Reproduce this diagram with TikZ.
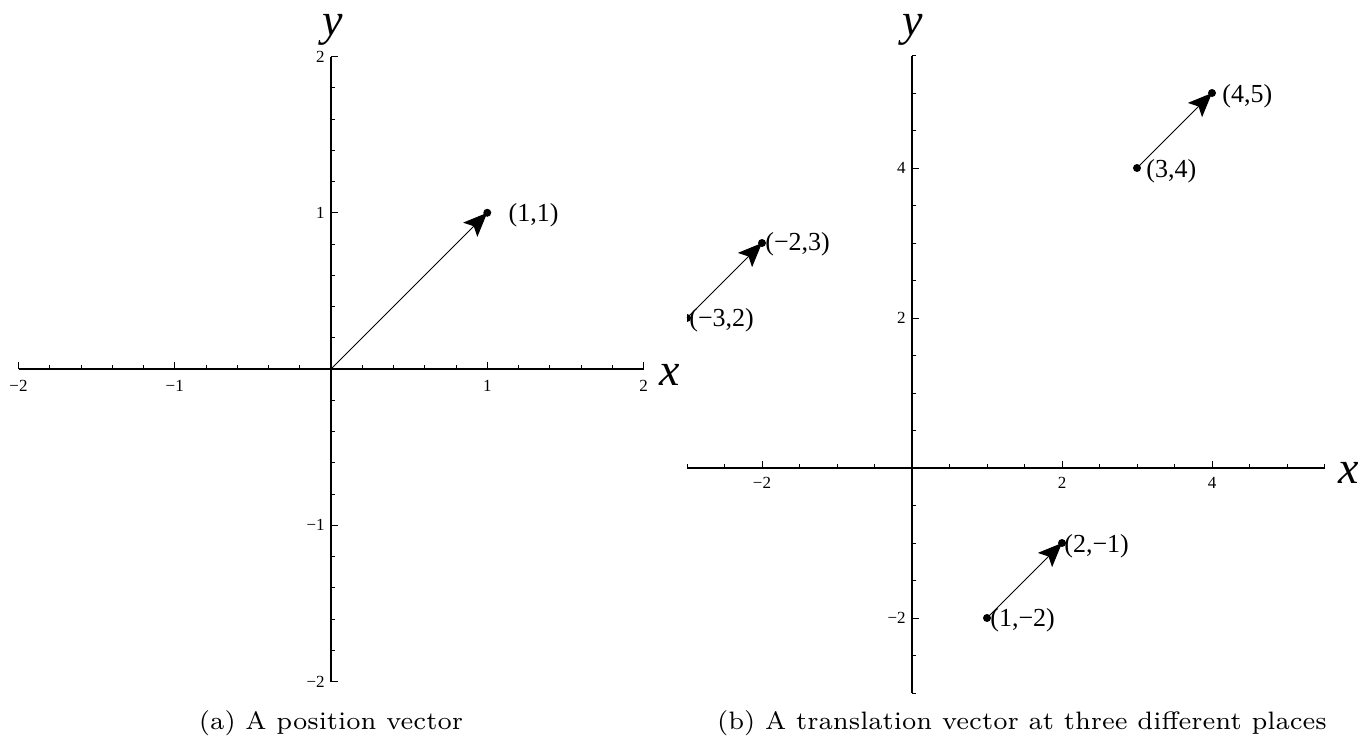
\documentclass[tikz,border=0pt]{standalone}
\usepackage{fontspec}
\usepackage{graphicx}
\newfontfamily\tms{Liberation Serif}
\usetikzlibrary{arrows.meta}
\begin{document}
\begin{tikzpicture}[x=0.5pt,y=-0.5pt,
  axis/.style={line width=0.75pt},
  tck/.style={line width=0.5pt},
  vec/.style={line width=0.5pt,-{Stealth[length=12pt,width=10pt,inset=2.5pt]}},
  dot/.style={circle,fill,inner sep=0pt,minimum size=4pt},
  tl/.style={font=\tms\fontsize{8.5}{10}\selectfont,inner sep=0pt},
  pl/.style={font=\tms\fontsize{13}{15}\selectfont,inner sep=0pt,anchor=west},
  al/.style={font=\tms\itshape\fontsize{23}{26}\selectfont,inner sep=0pt,anchor=base},
  captxt/.style={inner sep=0pt,anchor=base}]
\useasboundingbox (0,0) rectangle (1362,740);

% ---------- (a) ----------
\begin{scope}[shift={(331,369)}]
\begin{scope}[x=78.125pt,y=78.125pt]
  \draw[axis] (-2,0) -- (2,0);
  \draw[axis] (0,-2) -- (0,2);
  \foreach \i in {-10,...,10}{
    \draw[tck] (\i/5,0) -- ++(0pt,2pt);
    \draw[tck] (0,\i/5) -- ++(2pt,0pt);
  }
  \foreach \v in {-2,-1,1,2}{
    \draw[tck] (\v,0) -- ++(0pt,3.5pt);
    \draw[tck] (0,\v) -- ++(3.5pt,0pt);
  }
  \node[tl,yshift=-8.5pt] (ax-m2) at (-2,0) {−2};
  \node[tl,yshift=-8.5pt] (ax-m1) at (-1,0) {−1};
  \node[tl,yshift=-8.5pt] (ax-p1) at (1,0) {1};
  \node[tl,yshift=-8.5pt] (ax-p2) at (2,0) {2};
  \node[tl,anchor=east,xshift=-3pt] (ay-p2) at (0,2) {2};
  \node[tl,anchor=east,xshift=-3pt] (ay-p1) at (0,1) {1};
  \node[tl,anchor=east,xshift=-3pt] (ay-m1) at (0,-1) {−1};
  \node[tl,anchor=east,xshift=-3pt] (ay-m2) at (0,-2) {−2};
  \coordinate (ao) at (0,0);
  \coordinate (ap) at (1,1);
  \draw[vec] (ao) -- (ap);
  \node[dot] (apd) at (ap) {};
  \node[pl,xshift=10.5pt,yshift=-1pt] (apl) at (ap) {(1,1)};
\end{scope}
\end{scope}
\node[al] (axa) at (670,385) {x};
\node[al] (aya) at (333,35) {y};

% ---------- (b) ----------
\begin{scope}[shift={(912,468)}]
\begin{scope}[x=37.5pt,y=37.5pt]
  \draw[axis] (-3,0) -- (5.5,0);
  \draw[axis] (0,-3) -- (0,5.5);
  \foreach \i in {-6,...,11}{
    \draw[tck] (\i/2,0) -- ++(0pt,2pt);
    \draw[tck] (0,\i/2) -- ++(2pt,0pt);
  }
  \foreach \v in {-2,2,4}{
    \draw[tck] (\v,0) -- ++(0pt,3.5pt);
    \draw[tck] (0,\v) -- ++(3.5pt,0pt);
  }
  \node[tl,yshift=-7.5pt] (bx-m2) at (-2,0) {−2};
  \node[tl,yshift=-7.5pt] (bx-p2) at (2,0) {2};
  \node[tl,yshift=-7.5pt] (bx-p4) at (4,0) {4};
  \node[tl,anchor=east,xshift=-3pt] (by-p4) at (0,4) {4};
  \node[tl,anchor=east,xshift=-3pt] (by-p2) at (0,2) {2};
  \node[tl,anchor=east,xshift=-3pt] (by-m2) at (0,-2) {−2};
  \coordinate (b1s) at (-3,2);
  \coordinate (b1e) at (-2,3);
  \coordinate (b2s) at (3,4);
  \coordinate (b2e) at (4,5);
  \coordinate (b3s) at (1,-2);
  \coordinate (b3e) at (2,-1);
  \draw[vec] (b1s) -- (b1e);
  \draw[vec] (b2s) -- (b2e);
  \draw[vec] (b3s) -- (b3e);
  \begin{scope}
    \clip (-3,-3.5) rectangle (6,6);
    \node[dot] (b1sd) at (b1s) {};
  \end{scope}
  \node[dot] (b1ed) at (b1e) {};
  \node[dot] (b2sd) at (b2s) {};
  \node[dot] (b2ed) at (b2e) {};
  \node[dot] (b3sd) at (b3s) {};
  \node[dot] (b3ed) at (b3e) {};
  \node[pl,xshift=1pt,yshift=-1pt] (b1sl) at (b1s) {(−3,2)};
  \node[pl,xshift=1.5pt,yshift=-0.75pt] (b1el) at (b1e) {(−2,3)};
  \node[pl,xshift=4.5pt,yshift=-1.5pt] (b2sl) at (b2s) {(3,4)};
  \node[pl,xshift=5pt,yshift=-1.5pt] (b2el) at (b2e) {(4,5)};
  \node[pl,xshift=1.5pt,yshift=-1pt] (b3sl) at (b3s) {(1,−2)};
  \node[pl,xshift=1pt,yshift=-1.5pt] (b3el) at (b3e) {(2,−1)};
\end{scope}
\end{scope}
\node[al] (axb) at (1349,483) {x};
\node[al] (ayb) at (913,35) {y};

% ---------- captions ----------
\node[captxt] (capa) at (331,729) {\scalebox{1.8}{\fontsize{7}{8.4}\selectfont (a) A position vector}};
\node[captxt] (capb) at (1022,729) {\scalebox{1.8}{\fontsize{7}{8.4}\selectfont (b) A translation vector at three different places}};
\end{tikzpicture}
\end{document}
